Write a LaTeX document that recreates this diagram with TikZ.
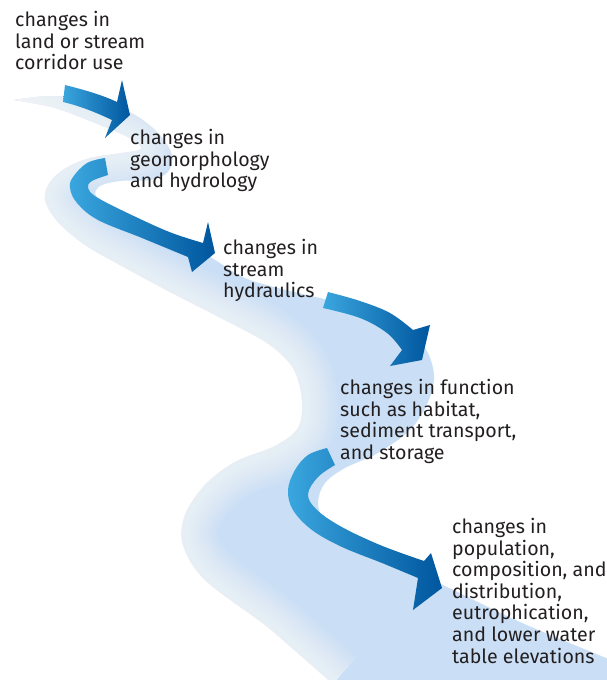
\documentclass[tikz,border=0pt]{standalone}
\usepackage{fontspec}
\setmainfont{Fira Sans}
\definecolor{bandblue}{RGB}{202,223,245}
\definecolor{arlight}{RGB}{58,166,222}
\definecolor{ardark}{RGB}{0,86,158}
\definecolor{inkgray}{RGB}{35,31,32}

\tikzset{
  flow/.style={left color=arlight, right color=ardark, draw=none},
  stagetext/.style={anchor=north west, inner sep=0pt, align=left, text=inkgray,
    font=\fontsize{19.6}{21.6}\selectfont},
  bank/.style={smooth, tension=0.55},
}

\begin{document}
\begin{tikzpicture}[x=1pt, y=-1pt]
\useasboundingbox (0,0) rectangle (606,680);

% the stream corridor: left-hand bank from the source down, right-hand bank back up
\fill[bandblue]
  plot[bank] coordinates {(14,100) (50,96) (90,99) (118,107) (140,118) (160,135) (172,155) (168,172) (150,180) (120,181) (100,186) (96,196) (115,210) (150,226) (185,243) (212,258) (250,280) (320,298) (365,308) (400,325) (425,348) (434,375) (428,402) (410,430) (378,453) (345,468) (325,483) (318,503) (326,525) (352,545) (400,566) (445,586) (520,622) (606,658) (612,661)}
  -- (612,686) -- (333,686) --
  plot[bank] coordinates {(333,684) (300,655) (265,625) (205,580) (183,545) (185,515) (205,485) (235,462) (275,446) (298,428) (302,400) (293,368) (267,343) (215,315) (170,292) (120,265) (85,245) (58,222) (45,200) (50,182) (66,168) (90,158) (122,153) (141,149) (132,139) (100,125) (55,108) (14,100)}
  -- cycle;

% soft fade towards the right-hand bank
\begin{scope}
  \clip
    plot[bank] coordinates {(14,100) (50,96) (90,99) (118,107) (140,118) (160,135) (172,155) (168,172) (150,180) (120,181) (100,186) (96,196) (115,210) (150,226) (185,243) (212,258) (250,280) (320,298) (365,308) (400,325) (425,348) (434,375) (428,402) (410,430) (378,453) (345,468) (325,483) (318,503) (326,525) (352,545) (400,566) (445,586) (520,622) (606,658) (612,661)}
    -- (612,686) -- (333,686) --
    plot[bank] coordinates {(333,684) (300,655) (265,625) (205,580) (183,545) (185,515) (205,485) (235,462) (275,446) (298,428) (302,400) (293,368) (267,343) (215,315) (170,292) (120,265) (85,245) (58,222) (45,200) (50,182) (66,168) (90,158) (122,153) (141,149) (132,139) (100,125) (55,108) (14,100)}
    -- cycle;
  \foreach \w in {4,8,...,72}
    \draw[white, line width=\w pt, opacity=0.06, line join=round]
      plot[bank] coordinates {(333,684) (300,655) (265,625) (205,580) (183,545) (185,515) (205,485) (235,462) (275,446) (298,428) (302,400) (293,368) (267,343) (215,315) (170,292) (120,265) (85,245) (58,222) (45,200) (50,182) (66,168) (90,158) (122,153) (141,149) (132,139) (100,125) (55,108) (14,100)};
  % the source end thins out to nothing
  \foreach \r in {6,12,...,60}
    \fill[white, opacity=0.07] (14,100) circle (\r pt);
\end{scope}

% cause-and-effect arrows
\shade[flow] (65,85) .. controls (85,90) and (102,95) .. (117,102)
  -- (122,80) -- (130,115) -- (105,138) -- (112,120)
  .. controls (95,112) and (80,106) .. (63,102) -- cycle;

\shade[flow] plot[smooth, tension=0.6] coordinates {(105,158) (87,163) (73,177) (70,188) (77,203) (98,220) (142,238) (188,257)}
  -- (192,272) -- (215,253) -- (208,222) --
  plot[smooth, tension=0.6] coordinates {(203,243) (172,233) (138,218) (98,198) (88,188) (92,181) (108,175)} -- cycle;

\shade[flow] plot[smooth, tension=0.6] coordinates {(328,292) (360,301) (390,313) (413,330)}
  -- (430,325) -- (422,360) -- (390,366) --
  plot[smooth, tension=0.6] coordinates {(402,350) (387,333) (360,318) (323,308)} -- cycle;

\shade[flow] plot[smooth, tension=0.6] coordinates {(327,448) (308,455) (295,470) (288,490) (293,510) (312,530) (342,547) (382,563) (418,578)}
  -- (413,610) -- (442,588) -- (431,553) --
  plot[smooth, tension=0.6] coordinates {(424,561) (380,545) (340,526) (316,509) (308,494) (318,477) (335,465)} -- cycle;

% stages
\node[stagetext] (land) at (15,11) {changes in\\land or stream\\corridor use};
\node[stagetext] (geo) at (130,129) {changes in\\geomorphology\\and hydrology};
\node[stagetext] (hyd) at (223,239) {changes in\\stream\\hydraulics};
\node[stagetext] (func) at (340,379) {changes in function\\such as habitat,\\sediment transport,\\and storage};
\node[stagetext] (pop) at (452,518) {changes in\\population,\\composition, and\\distribution,\\eutrophication,\\and lower water\\table elevations};
\end{tikzpicture}
\end{document}
